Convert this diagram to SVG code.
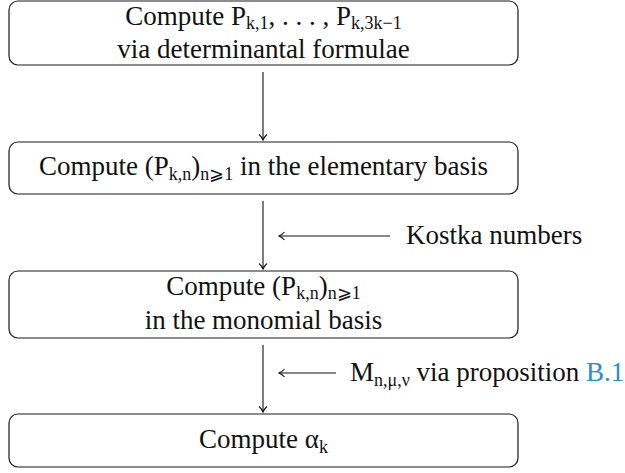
<svg xmlns="http://www.w3.org/2000/svg" width="625" height="473" viewBox="0 0 625 473">
<style>
  .box { fill: #ffffff; stroke: #1a1a1a; stroke-width: 1.2; }
  .t { font-family: "Liberation Serif", "DejaVu Serif", serif; font-size: 27px; fill: #111; }
  .m { text-anchor: middle; }
  .sub { font-size: 18px; }
  .edge { stroke: #111; stroke-width: 1.1; fill: none; marker-end: url(#arr); }
  .link { fill: #2e8bcb; }
</style>
<defs>
  <marker id="arr" markerUnits="userSpaceOnUse" markerWidth="12" markerHeight="12" viewBox="-7 -6 8 12" refX="0" refY="0" orient="auto">
    <path d="M -5.5 -4 C -3.5 -1.6, -1.2 -0.5, 0 0 C -1.2 0.5, -3.5 1.6, -5.5 4" fill="none" stroke="#111" stroke-width="1.1"/>
  </marker>
</defs>

<g id="node1">
  <rect class="box" x="9" y="1" width="509" height="64" rx="9"/>
  <text class="t m" x="263.5" y="25">Compute P<tspan class="sub" dy="4">k,1</tspan><tspan dy="-4">, . . . , P</tspan><tspan class="sub" dy="4">k,3k−1</tspan></text>
  <text class="t m" x="263.5" y="58">via determinantal formulae</text>
</g>

<g id="node2">
  <rect class="box" x="9" y="142" width="509" height="52" rx="9"/>
  <text class="t m" x="263.5" y="175">Compute (P<tspan class="sub" dy="5">k,n</tspan><tspan dy="-5">)</tspan><tspan class="sub" dy="5">n⩾1</tspan><tspan dy="-5"> in the elementary basis</tspan></text>
</g>

<g id="node3">
  <rect class="box" x="9" y="271" width="509" height="67" rx="9"/>
  <text class="t m" x="263.5" y="295">Compute (P<tspan class="sub" dy="4">k,n</tspan><tspan dy="-4">)</tspan><tspan class="sub" dy="4">n⩾1</tspan></text>
  <text class="t m" x="263.5" y="329">in the monomial basis</text>
</g>

<g id="node4">
  <rect class="box" x="9" y="414" width="509" height="53" rx="9"/>
  <text class="t m" x="263.5" y="448">Compute α<tspan class="sub" dy="5">k</tspan></text>
</g>

<g id="connectors">
  <path class="edge" d="M 263 72 L 263 140"/>
  <path class="edge" d="M 263 201 L 263 269"/>
  <path class="edge" d="M 263 345 L 263 412"/>
  <path class="edge" d="M 390 236 L 279 236"/>
  <path class="edge" d="M 336 373 L 279 373"/>
</g>

<g id="labels">
  <text class="t" x="406" y="244">Kostka numbers</text>
  <text class="t" x="350" y="381" font-size="26">M<tspan class="sub" dy="5">n,μ,ν</tspan><tspan dy="-5"> via proposition </tspan><tspan class="link">B.1</tspan></text>
</g>
</svg>
